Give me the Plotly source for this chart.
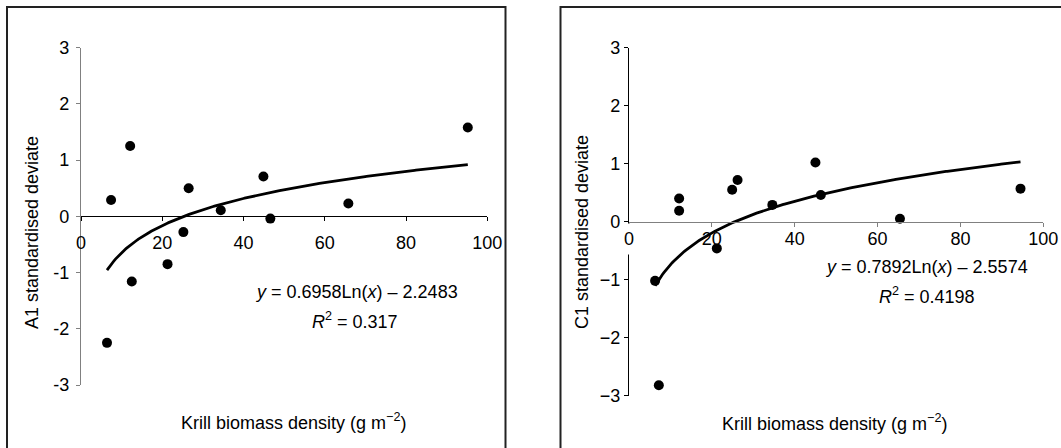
import numpy as np
import plotly.graph_objects as go

# ---------------- data ----------------
krill_a1 = [6.4, 7.4, 12.1, 12.5, 21.3, 25.2, 26.5, 34.4, 44.9, 46.6, 65.8, 95.2]
a1_dev = [-2.25, 0.29, 1.25, -1.16, -0.85, -0.28, 0.50, 0.11, 0.71, -0.04, 0.23, 1.58]
krill_c1 = [6.3, 7.2, 12.1, 12.1, 21.2, 24.9, 26.2, 34.6, 45.0, 46.3, 65.4, 94.5]
c1_dev = [-1.02, -2.82, 0.40, 0.19, -0.46, 0.55, 0.72, 0.29, 1.02, 0.46, 0.05, 0.57]

a1_fit = (0.6958, -2.2483)   # y = a*ln(x) + b
c1_fit = (0.7892, -2.5574)

x_ticks = [0, 20, 40, 60, 80, 100]
x_text_left = ["0", "20", "40", "60", "80", "100"]
x_text_right = ["", "20", "40", "60", "80", "100"]   # "0" drawn as a boxed label below
y_ticks = [-3, -2, -1, 0, 1, 2, 3]
y_text_left = ["-3", "-2", "-1", "0", "1", "2", "3"]
y_text_right = ["\u22123", "\u22122", "\u22121", "0", "1", "2", "3"]

x_title = "Krill biomass density (g m<sup>\u22122</sup>)"
a1_title = "A1 standardised deviate"
c1_title = "C1 standardised deviate"
a1_eq = "<i>y</i> = 0.6958Ln(<i>x</i>) \u2013 2.2483"
a1_r2 = "<i>R</i><sup>2</sup> = 0.317"
c1_eq = "<i>y</i> = 0.7892Ln(<i>x</i>) \u2013 2.5574"
c1_r2 = "<i>R</i><sup>2</sup> = 0.4198"

# ---------------- layout geometry ----------------
W, H = 1061, 448
FONT = "Liberation Sans, Arial, sans-serif"
FS = 18

def px_x(p):
    return p / W

def px_y(p):
    return 1 - p / H

left_xdom = [px_x(81), px_x(487.3)]
left_ydom = [px_y(385), px_y(47.7)]
right_xdom = [px_x(629), px_x(1043.3)]
right_ydom = [px_y(395.7), px_y(47.7)]

def zero_pos(dom):
    return dom[0] + (0 - (-3)) / 6 * (dom[1] - dom[0])

fig = go.Figure()

def fit_curve(xs, coef):
    xx = np.linspace(min(xs), max(xs), 300)
    return xx, coef[0] * np.log(xx) + coef[1]

# left panel
xx, yy = fit_curve(krill_a1, a1_fit)
fig.add_trace(go.Scatter(x=xx, y=yy, mode="lines", line=dict(color="black", width=2.8),
                         xaxis="x", yaxis="y", hoverinfo="skip"))
fig.add_trace(go.Scatter(x=krill_a1, y=a1_dev, mode="markers",
                         marker=dict(color="black", size=10), xaxis="x", yaxis="y"))
# right panel
xx, yy = fit_curve(krill_c1, c1_fit)
fig.add_trace(go.Scatter(x=xx, y=yy, mode="lines", line=dict(color="black", width=2.8),
                         xaxis="x2", yaxis="y2", hoverinfo="skip"))
fig.add_trace(go.Scatter(x=krill_c1, y=c1_dev, mode="markers",
                         marker=dict(color="black", size=10), xaxis="x2", yaxis="y2"))

tickfont = dict(family=FONT, size=FS, color="black")

def xaxis_cfg(dom, ydom, color, ticktext, standoff):
    return dict(domain=dom, range=[0, 100], anchor="free", position=zero_pos(ydom),
                showline=True, linecolor=color, linewidth=1.2, ticks="outside",
                ticklen=4, tickcolor=color, tickwidth=1, tickvals=x_ticks,
                ticktext=ticktext, tickfont=tickfont,
                showgrid=False, zeroline=False, ticklabelstandoff=standoff,
                automargin=False)

def yaxis_cfg(dom, anchor, color, ticktext, standoff):
    return dict(domain=dom, range=[-3, 3], anchor=anchor, showline=True,
                linecolor=color, linewidth=1.2, ticks="outside", ticklen=4,
                tickcolor=color, tickwidth=1, tickvals=y_ticks, ticktext=ticktext,
                tickfont=tickfont, showgrid=False, zeroline=False,
                ticklabelstandoff=standoff, automargin=False)

fig.update_layout(
    template="none",
    width=W, height=H, margin=dict(l=0, r=0, t=0, b=0, pad=0, autoexpand=False),
    paper_bgcolor="white", plot_bgcolor="white", showlegend=False,
    xaxis=xaxis_cfg(left_xdom, left_ydom, "black", x_text_left, 6),
    yaxis=yaxis_cfg(left_ydom, "x", "#808080", y_text_left, 3),
    xaxis2=xaxis_cfg(right_xdom, right_ydom, "#808080", x_text_right, -3),
    yaxis2=yaxis_cfg(right_ydom, "x2", "black", y_text_right, 0),
)

# frames around the panels (open at bottom / right, as in reference)
frame = dict(color="#222222", width=2)
fig.add_shape(type="rect", xref="paper", yref="paper", x0=px_x(7), x1=px_x(505.5),
              y0=-0.1, y1=px_y(7), line=frame, layer="above")
fig.add_shape(type="rect", xref="paper", yref="paper", x0=px_x(560.5), x1=1.1,
              y0=-0.1, y1=px_y(7), line=frame, layer="above")

def ann(text, x, y, angle=0):
    fig.add_annotation(text=text, xref="paper", yref="paper", x=px_x(x), y=px_y(y),
                       xanchor="center", yanchor="middle", showarrow=False,
                       textangle=angle, font=dict(family=FONT, size=FS, color="black"))

ann(a1_title, 32, 233, -90)
ann(c1_title, 582, 232, -90)
ann(x_title, 293, 421)
ann(x_title, 834, 422)
ann(a1_eq, 356, 292)
ann(a1_r2, 355, 320)
ann(c1_eq, 926, 267)
ann(c1_r2, 927, 295)

# right panel "0" x tick label on a white box that interrupts the y-axis line
fig.add_annotation(text="0", xref="x2", yref="y2", x=x_ticks[0], y=0,
                   xanchor="center", yanchor="top", yshift=-1, showarrow=False,
                   width=14, height=30, valign="middle", bgcolor="white", borderpad=0,
                   font=dict(family=FONT, size=FS, color="black"))

fig.write_html("out.html", post_script="document.body.style.margin='0';",
               config={"displayModeBar": False})
